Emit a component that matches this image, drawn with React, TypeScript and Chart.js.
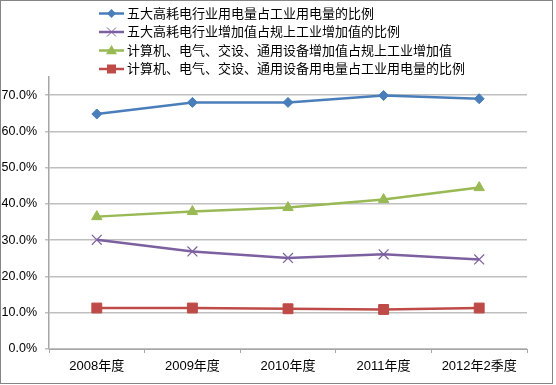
import React, { useEffect, useRef } from "react";
import { Chart, registerables } from "chart.js";

Chart.register(...registerables);

const categories = ["2008年度", "2009年度", "2010年度", "2011年度", "2012年2季度"];
const seriesNames = [
  "五大高耗电行业用电量占工业用电量的比例",
  "五大高耗电行业增加值占规上工业增加值的比例",
  "计算机、电气、交设、通用设备增加值占规上工业增加值",
  "计算机、电气、交设、通用设备用电量占工业用电量的比例",
];
const highPowerShare = [0.648, 0.68, 0.68, 0.699, 0.69];
const highValueShare = [0.301, 0.269, 0.251, 0.261, 0.247];
const equipValueShare = [0.365, 0.379, 0.39, 0.412, 0.445];
const equipPowerShare = [0.113, 0.113, 0.111, 0.109, 0.113];
const yTicks = [0, 0.1, 0.2, 0.3, 0.4, 0.5, 0.6, 0.7];

const colors = ["#4a7ebb", "#7d60a0", "#98b954", "#be4b48"];
const styles: any[] = ["rectRot", "crossRot", "triangle", "rect"];
const radii = [5, 7, 6, 7];
const FONT = "'Liberation Sans', 'Noto Sans CJK SC', sans-serif";

function drawMarker(ctx: any, style: string, r: number, x: number, y: number, color: string) {
  ctx.save();
  ctx.fillStyle = color;
  ctx.strokeStyle = color;
  ctx.beginPath();
  if (style === "rectRot") {
    ctx.moveTo(x, y - r);
    ctx.lineTo(x + r, y);
    ctx.lineTo(x, y + r);
    ctx.lineTo(x - r, y);
    ctx.closePath();
    ctx.fill();
  } else if (style === "crossRot") {
    const d = r;
    ctx.lineWidth = 1;
    ctx.moveTo(x - d, y - d);
    ctx.lineTo(x + d, y + d);
    ctx.moveTo(x - d, y + d);
    ctx.lineTo(x + d, y - d);
    ctx.stroke();
  } else if (style === "triangle") {
    ctx.moveTo(x, y - r);
    ctx.lineTo(x + r, y + r * 0.7);
    ctx.lineTo(x - r, y + r * 0.7);
    ctx.closePath();
    ctx.fill();
  } else {
    const s = r;
    ctx.rect(x - s, y - s, 2 * s, 2 * s);
    ctx.fill();
  }
  ctx.restore();
}

const legendSizes = [4.5, 4.5, 5.5, 4.5];

const legendPlugin = {
  id: "customLegend",
  afterDraw(chart: any) {
    const ctx = chart.ctx;
    ctx.save();
    ctx.strokeStyle = "#868686";
    ctx.lineWidth = 1;
    ctx.strokeRect(0.5, 0.5, 552, 383);
    const rows = [13.5, 32, 50.5, 69];
    seriesNames.forEach((name, i) => {
      const y = rows[i];
      ctx.strokeStyle = colors[i];
      ctx.lineWidth = 2.5;
      ctx.beginPath();
      ctx.moveTo(99, y);
      ctx.lineTo(124, y);
      ctx.stroke();
      drawMarker(ctx, styles[i], legendSizes[i], 111.5, y, colors[i]);
      ctx.fillStyle = "#000";
      ctx.font = "13px " + FONT;
      ctx.textBaseline = "middle";
      ctx.textAlign = "left";
      ctx.fillText(name, 127, y + 0.5);
    });
    ctx.restore();
  },
};

export default function App() {
  const ref = useRef<HTMLCanvasElement>(null);
  useEffect(() => {
    document.body.style.margin = "0";
    const data = [highPowerShare, highValueShare, equipValueShare, equipPowerShare];
    const chart = new Chart(ref.current as HTMLCanvasElement, {
      type: "line",
      data: {
        labels: categories,
        datasets: data.map((d, i) => ({
          label: seriesNames[i],
          data: d,
          borderColor: colors[i],
          backgroundColor: colors[i],
          borderWidth: 2.5,
          pointStyle: styles[i],
          pointRadius: radii[i],
          pointBorderWidth: i === 1 ? 1.2 : 1,
          pointBorderColor: colors[i],
          pointBackgroundColor: colors[i],
          tension: 0,
        })),
      },
      options: {
        animation: false,
        responsive: false,
        layout: { padding: { left: 0, right: 29, top: 77, bottom: 0 } },
        plugins: { legend: { display: false }, tooltip: { enabled: false } },
        scales: {
          x: {
            offset: true,
            grid: {
              display: true,
              offset: true,
              drawOnChartArea: false,
              drawTicks: true,
              tickLength: 4,
              color: "#a6a6a6",
            },
            border: { display: true, color: "#a6a6a6", width: 1 },
            ticks: {
              color: "#000",
              font: { family: FONT, size: 13 },
              padding: 6,
              maxRotation: 0,
            },
            afterFit(scale: any) {
              scale.height = 36;
            },
          },
          y: {
            min: 0,
            max: 0.75,
            afterBuildTicks(scale: any) {
              scale.ticks = yTicks.map((v) => ({ value: v }));
            },
            grid: {
              color: "#bfbfbf",
              lineWidth: 1.5,
              tickLength: 4,
              drawTicks: true,
            },
            border: { display: true, color: "#a6a6a6", width: 1.5 },
            ticks: {
              color: "#000",
              font: { family: FONT, size: 12.5 },
              padding: 8,
              callback: (v: any) => (Number(v) * 100).toFixed(1) + "%",
            },
            afterFit(scale: any) {
              scale.width = 49;
            },
          },
        },
      },
      plugins: [legendPlugin],
    } as any);
    return () => chart.destroy();
  }, []);
  return (
    <div style={{ width: 556, height: 385 }}>
      <canvas ref={ref} width={556} height={385} style={{ display: "block" }} />
    </div>
  );
}
